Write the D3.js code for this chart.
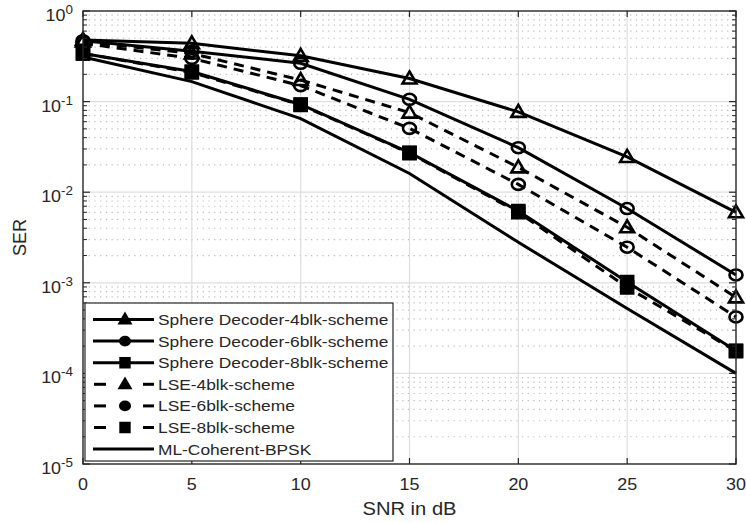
<!DOCTYPE html>
<html>
<head>
<meta charset="utf-8">
<script src="https://cdn.jsdelivr.net/npm/d3@7"></script>
<style>
  body { margin: 0; background: #fff; }
  svg { display: block; }
  text { font-family: "Liberation Sans", Arial, sans-serif; fill: #262626; }
</style>
</head>
<body>
<svg id="chart" width="746" height="523"></svg>
<script>
// SNR points (dB)
const snr = [0, 5, 10, 15, 20, 25, 30];

// Symbol error rate per scheme
const sd4  = [0.48, 0.44, 0.32, 0.18, 0.077, 0.0245, 0.006];
const sd6  = [0.47, 0.36, 0.265, 0.106, 0.031, 0.0066, 0.00122];
const sd8  = [0.34, 0.215, 0.093, 0.0273, 0.0062, 0.00102, 0.000178];
const lse4 = [0.46, 0.34, 0.173, 0.0755, 0.0188, 0.0041, 0.00069];
const lse6 = [0.44, 0.30, 0.15, 0.0507, 0.0122, 0.00247, 0.00042];
const lse8 = [0.34, 0.21, 0.092, 0.0270, 0.0060, 0.00089, 0.000176];
const mlBpsk = [0.31, 0.166, 0.065, 0.0161, 0.0028, 0.00052, 0.0001];

// Axis ticks
const xTicks = [0, 5, 10, 15, 20, 25, 30];
const yExponents = [0, -1, -2, -3, -4, -5];

const seriesNames = [
  "Sphere Decoder-4blk-scheme",
  "Sphere Decoder-6blk-scheme",
  "Sphere Decoder-8blk-scheme",
  "LSE-4blk-scheme",
  "LSE-6blk-scheme",
  "LSE-8blk-scheme",
  "ML-Coherent-BPSK"
];

const series = [
  { name: seriesNames[0], values: sd4,    dashed: false, marker: "triangle" },
  { name: seriesNames[1], values: sd6,    dashed: false, marker: "circle" },
  { name: seriesNames[2], values: sd8,    dashed: false, marker: "square" },
  { name: seriesNames[3], values: lse4,   dashed: true,  marker: "triangle" },
  { name: seriesNames[4], values: lse6,   dashed: true,  marker: "circle" },
  { name: seriesNames[5], values: lse8,   dashed: true,  marker: "square" },
  { name: seriesNames[6], values: mlBpsk, dashed: false, marker: null }
];

const svg = d3.select("#chart");
const box = { left: 83, right: 736, top: 11, bottom: 464 };
const SX = 1.12;          // horizontal stretch applied to glyphs
const ink = "#262626";
const DASH = "10,7";

const x = d3.scaleLinear().domain([0, 30]).range([box.left, box.right]);
const y = d3.scaleLog().domain([1e-5, 1]).range([box.bottom, box.top]);

// ---- grid ----
const grid = svg.append("g");
const minorVals = [];
for (let e = -5; e < 0; e++) for (let k = 2; k <= 9; k++) minorVals.push(k * Math.pow(10, e));

grid.selectAll("line.minor").data(minorVals).join("line")
  .attr("x1", box.left).attr("x2", box.right)
  .attr("y1", d => y(d)).attr("y2", d => y(d))
  .attr("stroke", "#bdbdbd").attr("stroke-width", 1.2)
  .attr("stroke-dasharray", "1.2,4.5");

grid.selectAll("line.majy").data(yExponents.slice(1, -1)).join("line")
  .attr("x1", box.left).attr("x2", box.right)
  .attr("y1", d => y(Math.pow(10, d))).attr("y2", d => y(Math.pow(10, d)))
  .attr("stroke", "#dedede").attr("stroke-width", 1.2);

grid.selectAll("line.majx").data(xTicks.slice(1, -1)).join("line")
  .attr("x1", d => x(d)).attr("x2", d => x(d))
  .attr("y1", box.top).attr("y2", box.bottom)
  .attr("stroke", "#dedede").attr("stroke-width", 1.2);

// ---- markers ----
function markerPath(type, k) {
  if (type === "triangle") {
    return `M0,${-7 * k} L${7 * k},${5 * k} L${-7 * k},${5 * k} Z`;
  }
  return `M${-6 * k},${-6 * k} L${6 * k},${-6 * k} L${6 * k},${6 * k} L${-6 * k},${6 * k} Z`;
}
function drawMarker(g, type, cx, cy, k = 1, sw = 2.6, solid = false) {
  if (type === "circle") {
    g.append("ellipse").attr("cx", cx).attr("cy", cy)
      .attr("rx", 6.5 * k).attr("ry", 5.5 * k)
      .attr("fill", solid ? "#000" : "none").attr("stroke", "#000").attr("stroke-width", sw);
  } else if (type) {
    g.append("path").attr("d", markerPath(type, k))
      .attr("transform", `translate(${cx},${cy})`)
      .attr("fill", (solid || type === "square") ? "#000" : "none")
      .attr("stroke", "#000").attr("stroke-width", sw)
      .attr("stroke-linejoin", "miter");
  }
}

// ---- data lines ----
const line = d3.line().x((d, i) => x(snr[i])).y(d => y(d));
const plot = svg.append("g");
series.forEach(s => {
  plot.append("path").datum(s.values)
    .attr("d", line)
    .attr("fill", "none").attr("stroke", "#000").attr("stroke-width", 3)
    .attr("stroke-dasharray", s.dashed ? DASH : null);
});
series.forEach(s => {
  if (!s.marker) return;
  s.values.forEach((v, i) => drawMarker(plot, s.marker, x(snr[i]), y(v)));
});

// ---- axes box and ticks ----
const ax = svg.append("g");
ax.append("rect")
  .attr("x", box.left).attr("y", box.top)
  .attr("width", box.right - box.left).attr("height", box.bottom - box.top)
  .attr("fill", "none").attr("stroke", ink).attr("stroke-width", 1.4);

xTicks.forEach(t => {
  ax.append("line").attr("x1", x(t)).attr("x2", x(t))
    .attr("y1", box.bottom).attr("y2", box.bottom - 6).attr("stroke", ink).attr("stroke-width", 1.2);
  ax.append("line").attr("x1", x(t)).attr("x2", x(t))
    .attr("y1", box.top).attr("y2", box.top + 6).attr("stroke", ink).attr("stroke-width", 1.2);
});
yExponents.forEach(e => {
  const yy = y(Math.pow(10, e));
  ax.append("line").attr("x1", box.left).attr("x2", box.left + 7)
    .attr("y1", yy).attr("y2", yy).attr("stroke", ink).attr("stroke-width", 1.2);
  ax.append("line").attr("x1", box.right).attr("x2", box.right - 7)
    .attr("y1", yy).attr("y2", yy).attr("stroke", ink).attr("stroke-width", 1.2);
});
minorVals.forEach(v => {
  const yy = y(v);
  ax.append("line").attr("x1", box.left).attr("x2", box.left + 4)
    .attr("y1", yy).attr("y2", yy).attr("stroke", ink).attr("stroke-width", 1);
  ax.append("line").attr("x1", box.right).attr("x2", box.right - 4)
    .attr("y1", yy).attr("y2", yy).attr("stroke", ink).attr("stroke-width", 1);
});

// tick labels
xTicks.forEach(t => {
  ax.append("text")
    .attr("transform", `translate(${x(t)},${box.bottom + 26}) scale(${SX},1)`)
    .attr("text-anchor", "middle").style("font-size", "16px").text(t);
});
yExponents.forEach(e => {
  const t = ax.append("text")
    .attr("transform", `translate(73,${y(Math.pow(10, e)) + 10}) scale(${SX},1)`)
    .attr("text-anchor", "end").style("font-size", "16px");
  t.append("tspan").text("10");
  t.append("tspan").attr("dy", -7).style("font-size", "12px").text(e);
});

// axis titles
ax.append("text")
  .attr("transform", `translate(${(box.left + box.right) / 2},515) scale(${SX},1)`)
  .attr("text-anchor", "middle").style("font-size", "18px").text("SNR in dB");
ax.append("text")
  .attr("transform", `translate(26,${(box.top + box.bottom) / 2}) rotate(-90)`)
  .attr("text-anchor", "middle").style("font-size", "18px").text("SER");

// ---- legend ----
const lg = svg.append("g");
lg.append("rect").attr("x", 85).attr("y", 303).attr("width", 308).attr("height", 158)
  .attr("fill", "#fff").attr("stroke", ink).attr("stroke-width", 1.2);
series.forEach((s, i) => {
  const yy = 319.5 + i * 21.6;
  if (s.dashed) {
    lg.append("line").attr("x1", 94).attr("x2", 106).attr("y1", yy).attr("y2", yy)
      .attr("stroke", "#000").attr("stroke-width", 3);
    lg.append("line").attr("x1", 143).attr("x2", 154).attr("y1", yy).attr("y2", yy)
      .attr("stroke", "#000").attr("stroke-width", 3);
  } else {
    lg.append("line").attr("x1", 93).attr("x2", 154).attr("y1", yy).attr("y2", yy)
      .attr("stroke", "#000").attr("stroke-width", 3);
  }
  if (s.marker) drawMarker(lg, s.marker, 125, yy, 0.7, 3, true);
  lg.append("text")
    .attr("transform", `translate(158,${yy + 5.5}) scale(${SX},1)`)
    .style("font-size", "15.5px").text(s.name);
});
</script>
</body>
</html>
